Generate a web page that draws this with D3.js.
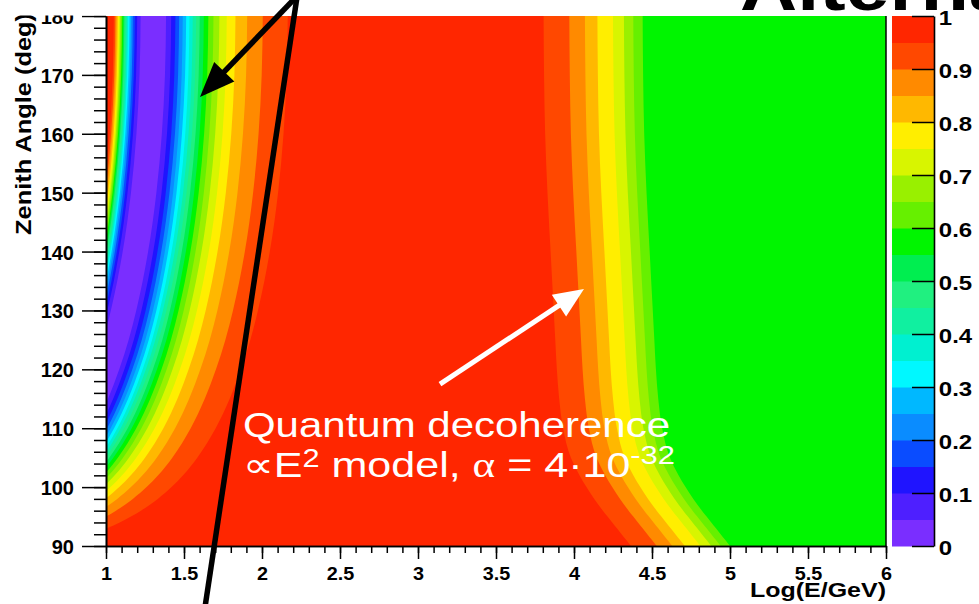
<!DOCTYPE html>
<html>
<head>
<meta charset="utf-8">
<title>Survival probability vs. energy and zenith angle</title>
<script src="https://cdn.jsdelivr.net/npm/d3@7/dist/d3.min.js"></script>
<style>
  html, body { margin: 0; padding: 0; background: #fff; }
  svg { display: block; }
  text { font-family: "Liberation Sans", Arial, Helvetica, sans-serif; }
</style>
</head>
<body>
<svg id="chart" width="979" height="604"></svg>
<script>
// Contour levels of the survival probability and the fill colour of each band
const contourLevels = [0, 0.05, 0.1, 0.15, 0.2, 0.25, 0.3, 0.35, 0.4, 0.45, 0.5,
                       0.55, 0.6, 0.65, 0.7, 0.75, 0.8, 0.85, 0.9, 0.95, 1];
const bandColors = ["#7a2eff", "#4e1fff", "#1f14ff", "#0a4cff", "#0a8cff",
                    "#00b8ff", "#00f8ff", "#00f0d0", "#10f0a0", "#20f080",
                    "#00ee50", "#00f500", "#66f000", "#99f000", "#d8f500",
                    "#ffee00", "#ffb800", "#ff8a00", "#ff4800", "#ff2600"];

// Zenith angles (deg) of the sampled rows
const zenithRows = [90, 91, 92, 93, 94, 95, 96, 98, 100, 102, 105,
                    110, 115, 120, 125, 130, 140, 150, 160, 170, 180];
// Offset in log10(E/GeV) of the oscillation dip on each row
const dipShift = [-1.465, -1.356, -1.253, -1.160, -1.077, -1.005, -0.941, -0.833, -0.745, -0.671, -0.580,
                  -0.462, -0.372, -0.300, -0.240, -0.191, -0.115, -0.062, -0.027, -0.007, 0];
// Offset in log10(E/GeV) of the decoherence fall-off on each row
const decoShift = [0.56, 0.53, 0.50, 0.47, 0.44, 0.41, 0.38, 0.325, 0.275, 0.23, 0.175,
                   0.125, 0.10, 0.085, 0.075, 0.065, 0.045, 0.025, 0.01, 0.003, 0];

// Dip edges on the 180 deg row, levels 0.05 ... 0.95 (falling and rising side)
const dipFallEdges = [1.222, 1.200, 1.185, 1.172, 1.161, 1.151, 1.142, 1.134, 1.126, 1.118,
                      1.111, 1.104, 1.097, 1.090, 1.083, 1.076, 1.068, 1.060, 1.050];
const dipRiseEdges = [1.385, 1.418, 1.445, 1.469, 1.492, 1.514, 1.535, 1.556, 1.578, 1.601,
                      1.627, 1.656, 1.689, 1.727, 1.774, 1.830, 1.905, 2.005, 2.165];
// Decoherence edges on the 180 deg row
const decoLevels = [0.6, 0.65, 0.7, 0.75, 0.8, 0.85, 0.9, 0.95];
const decoEdges  = [4.44, 4.38, 4.32, 4.25, 4.15, 4.07, 3.97, 3.805];

// Axis ticks
const xTickValues = [1, 1.5, 2, 2.5, 3, 3.5, 4, 4.5, 5, 5.5, 6];
const xTickLabels = ["1", "1.5", "2", "2.5", "3", "3.5", "4", "4.5", "5", "5.5", "6"];
const yTickValues = [90, 100, 110, 120, 130, 140, 150, 160, 170, 180];
const yTickLabels = ["90", "100", "110", "120", "130", "140", "150", "160", "170", "180"];
const zTickValues = [0, 0.1, 0.2, 0.3, 0.4, 0.5, 0.6, 0.7, 0.8, 0.9, 1];
const zTickLabels = ["0", "0.1", "0.2", "0.3", "0.4", "0.5", "0.6", "0.7", "0.8", "0.9", "1"];

// Annotations, in data coordinates [log10(E/GeV), zenith]
const darkArrow = { from: [2.218, 183.2], to: [1.6026, 166.25] };
const darkLine  = { from: [2.2244, 183.2], to: [1.6346, 79.6] };
const lightArrow = { from: [3.141, 117.5], to: [4.064, 133.64] };
const noteAnchor = [1.878, 108.5];
const noteLine2  = [1.878, 101.72];

const svg = d3.select("#chart");
const frame = { left: 106, right: 886, top: 16, bottom: 546 };
const bar = { left: 892, right: 934 };

const x = d3.scaleLinear().domain([1, 6]).range([frame.left, frame.right]);
const y = d3.scaleLinear().domain([90, 180]).range([frame.bottom, frame.top]);
const z = d3.scaleLinear().domain([0, 1]).range([frame.bottom, frame.top]);

const rows = zenithRows
  .map((zen, i) => ({ zen, dip: dipShift[i], deco: decoShift[i] }))
  .sort((a, b) => b.zen - a.zen);

// Regions where the probability is below each level, painted from the highest level down
const bands = [];
dipFallEdges.forEach((f, j) => bands.push({
  level: contourLevels[j + 1],
  color: bandColors[j],
  lo: r => f + r.dip,
  hi: r => dipRiseEdges[j] + r.dip
}));
decoEdges.forEach((e, j) => {
  const lvl = decoLevels[j];
  bands.push({
    level: lvl,
    color: bandColors[contourLevels.indexOf(lvl) - 1],
    lo: r => e + r.deco,
    hi: () => 6.5
  });
});
bands.sort((a, b) => b.level - a.level);

svg.append("defs").append("clipPath").attr("id", "plot-clip")
  .append("rect")
  .attr("x", x(1)).attr("y", y(180))
  .attr("width", x(6) - x(1)).attr("height", y(90) - y(180));

const field = svg.append("g").attr("clip-path", "url(#plot-clip)");
field.append("rect")
  .attr("x", x(1)).attr("y", y(180))
  .attr("width", x(6) - x(1)).attr("height", y(90) - y(180))
  .attr("fill", bandColors[bandColors.length - 1]);

field.selectAll("path.band").data(bands).join("path")
  .attr("class", "band")
  .attr("fill", d => d.color)
  .attr("d", d => d3.area()
    .curve(d3.curveMonotoneY)
    .y(r => y(r.zen))
    .x0(r => x(d.lo(r)))
    .x1(r => x(d.hi(r)))(rows));

// Right edge of the frame
svg.append("line")
  .attr("x1", x(6)).attr("x2", x(6)).attr("y1", y(180)).attr("y2", y(90))
  .attr("stroke", "#000").attr("stroke-width", 1.5);

function styleAxis(g) {
  g.select(".domain").attr("stroke", "#000").attr("stroke-width", 1.6);
  g.selectAll(".tick line").attr("stroke", "#000").attr("stroke-width", 1.5);
}

// X axis: minor then major ticks
const gxMinor = svg.append("g").attr("transform", `translate(0,${frame.bottom})`)
  .call(d3.axisBottom(x).tickValues(x.ticks(50)).tickSize(7).tickSizeOuter(0).tickFormat(""));
styleAxis(gxMinor);
const gx = svg.append("g").attr("transform", `translate(0,${frame.bottom})`)
  .call(d3.axisBottom(x).tickValues(xTickValues).tickSize(13).tickSizeOuter(0)
    .tickFormat((d, i) => xTickLabels[i]));
styleAxis(gx);
gx.selectAll(".tick text")
  .attr("y", 34).attr("dy", 0)
  .attr("fill", "#000").attr("font-size", 18).attr("font-weight", "bold")
  .attr("font-family", "Liberation Sans, Arial, sans-serif")
  .attr("transform", "scale(1.1,1)");

// Y axis: minor then major ticks
const gyMinor = svg.append("g").attr("transform", `translate(${frame.left},0)`)
  .call(d3.axisLeft(y).tickValues(y.ticks(45)).tickSize(12).tickSizeOuter(0).tickFormat(""));
styleAxis(gyMinor);
const gy = svg.append("g").attr("transform", `translate(${frame.left},0)`)
  .call(d3.axisLeft(y).tickValues(yTickValues).tickSize(24).tickPadding(8).tickSizeOuter(0)
    .tickFormat((d, i) => yTickLabels[i]));
styleAxis(gy);
gy.selectAll(".tick text")
  .attr("dy", 7.5)
  .attr("fill", "#000").attr("font-size", 20).attr("font-weight", "bold")
  .attr("font-family", "Liberation Sans, Arial, sans-serif");

// Colour scale bar
svg.append("g").selectAll("rect").data(bandColors).join("rect")
  .attr("x", bar.left).attr("width", bar.right - bar.left)
  .attr("y", (c, i) => z(contourLevels[i + 1]))
  .attr("height", (c, i) => z(contourLevels[i]) - z(contourLevels[i + 1]) + 0.5)
  .attr("fill", c => c);
const gz = svg.append("g").attr("transform", `translate(${bar.right},0)`)
  .call(d3.axisRight(z).tickValues(zTickValues).tickSize(-22).tickPadding(4).tickSizeOuter(0)
    .tickFormat((d, i) => zTickLabels[i]));
styleAxis(gz);
gz.selectAll(".tick text")
  .attr("dy", 8)
  .attr("fill", "#000").attr("font-size", 20).attr("font-weight", "bold")
  .attr("font-family", "Liberation Sans, Arial, sans-serif")
  .attr("transform", "scale(1.2,1)");

// Axis titles
svg.append("text")
  .attr("x", frame.right).attr("y", 597)
  .attr("text-anchor", "end")
  .attr("font-size", 21).attr("font-weight", "bold")
  .attr("textLength", 136).attr("lengthAdjust", "spacingAndGlyphs")
  .text("Log(E/GeV)");
svg.append("text")
  .attr("transform", "translate(31,235) rotate(-90)")
  .attr("font-size", 22).attr("font-weight", "bold")
  .attr("textLength", 222).attr("lengthAdjust", "spacingAndGlyphs")
  .text("Zenith Angle (deg)");

// Page area above the frame
svg.append("rect").attr("x", 0).attr("y", 0).attr("width", frame.right).attr("height", 15.5)
  .attr("fill", "#fff");

// Arrows
function arrow(spec, color, width, headLen, headHalf) {
  const [x0, y0] = [x(spec.from[0]), y(spec.from[1])];
  const [x1, y1] = [x(spec.to[0]), y(spec.to[1])];
  const len = Math.hypot(x1 - x0, y1 - y0);
  const ux = (x1 - x0) / len, uy = (y1 - y0) / len;
  const bx = x1 - ux * headLen, by = y1 - uy * headLen;
  svg.append("line")
    .attr("x1", x0).attr("y1", y0).attr("x2", bx + ux * 2).attr("y2", by + uy * 2)
    .attr("stroke", color).attr("stroke-width", width);
  svg.append("path")
    .attr("d", d3.line()([[x1, y1], [bx - uy * headHalf, by + ux * headHalf], [bx + uy * headHalf, by - ux * headHalf]]) + "Z")
    .attr("fill", color);
}
arrow(darkArrow, "#000", 5.5, 35, 14);
svg.append("line")
  .attr("x1", x(darkLine.from[0])).attr("y1", y(darkLine.from[1]))
  .attr("x2", x(darkLine.to[0])).attr("y2", y(darkLine.to[1]))
  .attr("stroke", "#000").attr("stroke-width", 5.5);
arrow(lightArrow, "#fff", 5, 30, 13);

// Model label
const note = svg.append("g").attr("fill", "#fff");
note.append("text")
  .attr("transform", `translate(${x(noteAnchor[0])},${y(noteAnchor[1])}) scale(1.2,1)`)
  .attr("font-size", 35)
  .text("Quantum decoherence");
const l2 = note.append("text")
  .attr("transform", `translate(${x(noteLine2[0])},${y(noteLine2[1])}) scale(1.23,1)`)
  .attr("font-size", 35);
l2.append("tspan").text("\u221DE");
l2.append("tspan").attr("font-size", 25).attr("dy", -10).text("2");
l2.append("tspan").attr("dy", 10).text(" model, ");
l2.append("tspan").attr("font-family", "Liberation Serif, Times New Roman, serif").text("\u03B1");
l2.append("tspan").text(" = 4\u00B710");
l2.append("tspan").attr("font-size", 25).attr("dy", -13).text("-32");

// Heading fragment at the top right
svg.append("text")
  .attr("transform", "translate(740,10) scale(1.2,1)")
  .attr("font-size", 66).attr("font-weight", "bold").attr("fill", "#000")
  .text("Alternative");
</script>
</body>
</html>
